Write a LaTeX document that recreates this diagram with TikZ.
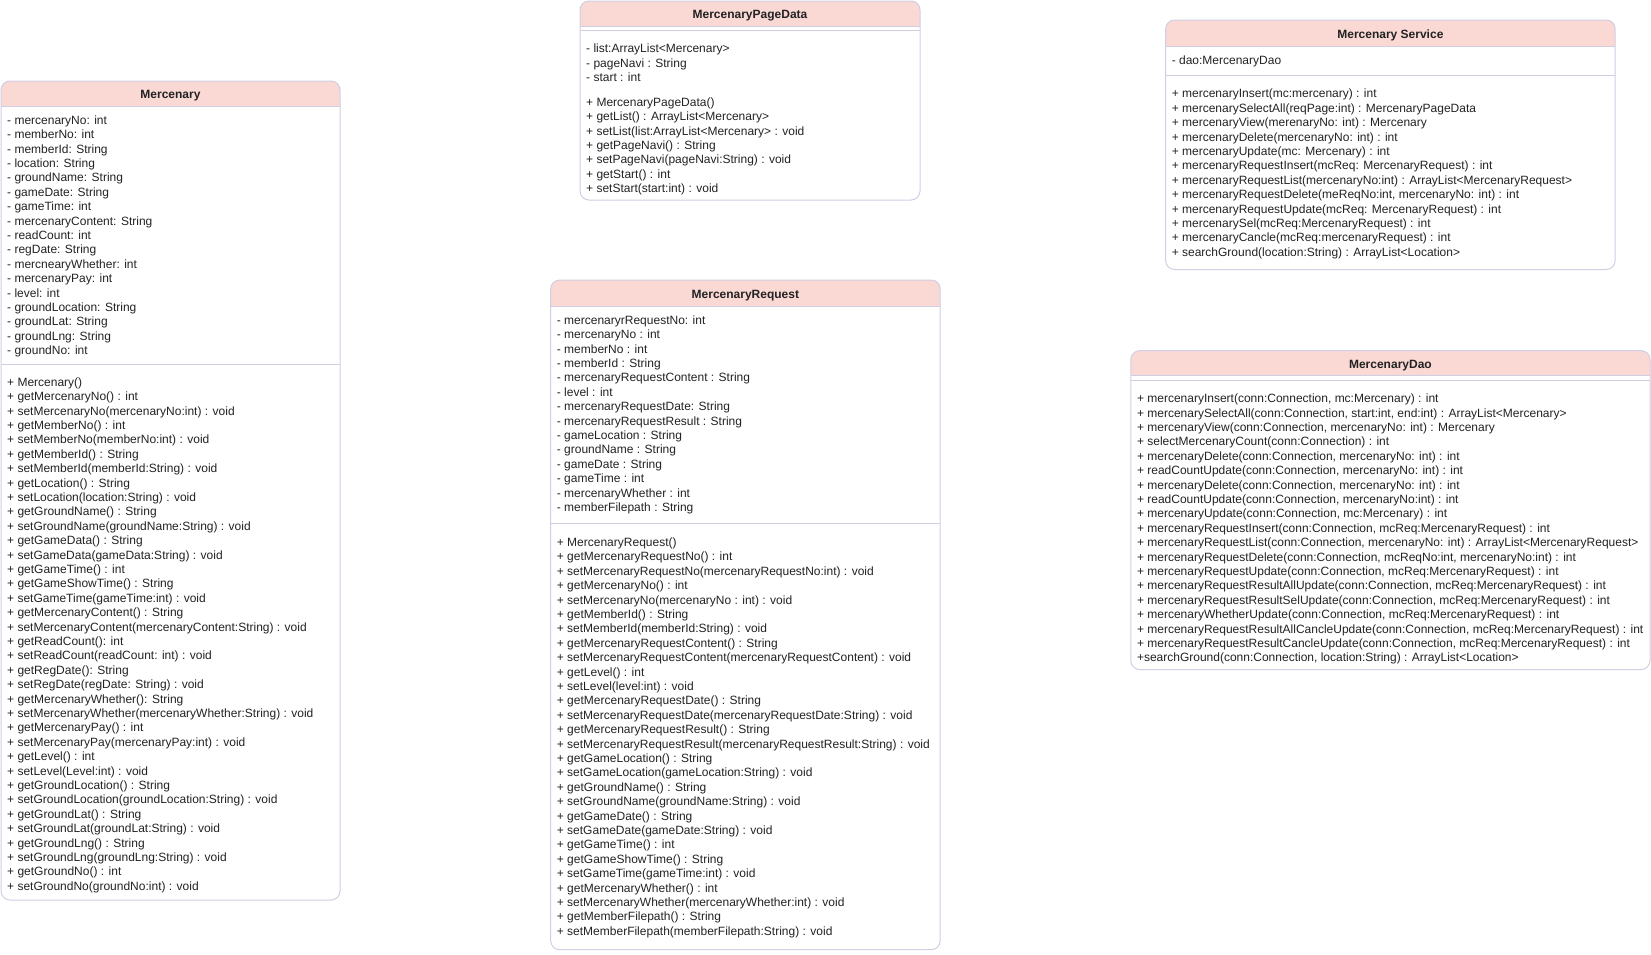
\documentclass[tikz,border=0pt]{standalone}
\usepackage{fontspec}
\setmainfont{Liberation Sans}
\definecolor{hdr}{HTML}{FAD9D5}
\definecolor{bord}{HTML}{D0CEE2}
\definecolor{txt}{HTML}{222222}
\tikzset{
  classbox/.style={draw=bord, line width=1pt, rounded corners=9pt, inner sep=0pt, outer sep=0pt, anchor=north west},
  hdrfill/.style={fill=hdr, rounded corners=9pt},
  sepline/.style={draw=bord, line width=1pt},
  classtitle/.style={font=\bfseries\fontsize{12}{14.4}\selectfont, text=txt, anchor=base, inner sep=0pt},
  members/.style={font=\fontsize{12}{14.4}\selectfont, text=txt, align=left, anchor=north west, inner sep=0pt},
}
\newcommand{\fstrut}{\rule{0pt}{10pt}}
\begin{document}
\begin{tikzpicture}[x=1pt,y=-1pt]
\useasboundingbox (0,0) rectangle (1651,954);

% ---------------- Mercenary ----------------
\fill[hdrfill] (1,106.3) |- (340,81) -- (340,106.3);
\node[classbox, minimum width=339pt, minimum height=819pt] (merc) at (1,81) {};
\draw[sepline] (1,106.3) -- (340,106.3);
\draw[sepline] (1,364.3) -- (340,364.3);
\node[classtitle] (merc-title) at (170.5,98.5) {Mercenary};
\node[members] (merc-attr) at (7,114) {\fstrut- mercenaryNo: int\\
- memberNo: int\\
- memberId: String\\
- location: String\\
- groundName: String\\
- gameDate: String\\
- gameTime: int\\
- mercenaryContent: String\\
- readCount: int\\
- regDate: String\\
- mercnearyWhether: int\\
- mercenaryPay: int\\
- level: int\\
- groundLocation: String\\
- groundLat: String\\
- groundLng: String\\
- groundNo: int};
\node[members] (merc-meth) at (7,376) {\fstrut+ Mercenary()\\
+ getMercenaryNo() : int\\
+ setMercenaryNo(mercenaryNo:int) : void\\
+ getMemberNo() : int\\
+ setMemberNo(memberNo:int) : void\\
+ getMemberId() : String\\
+ setMemberId(memberId:String) : void\\
+ getLocation() : String\\
+ setLocation(location:String) : void\\
+ getGroundName() : String\\
+ setGroundName(groundName:String) : void\\
+ getGameData() : String\\
+ setGameData(gameData:String) : void\\
+ getGameTime() : int\\
+ getGameShowTime() : String\\
+ setGameTime(gameTime:int) : void\\
+ getMercenaryContent() : String\\
+ setMercenaryContent(mercenaryContent:String) : void\\
+ getReadCount(): int\\
+ setReadCount(readCount: int) : void\\
+ getRegDate(): String\\
+ setRegDate(regDate: String) : void\\
+ getMercenaryWhether(): String\\
+ setMercenaryWhether(mercenaryWhether:String) : void\\
+ getMercenaryPay() : int\\
+ setMercenaryPay(mercenaryPay:int) : void\\
+ getLevel() : int\\
+ setLevel(Level:int) : void\\
+ getGroundLocation() : String\\
+ setGroundLocation(groundLocation:String) : void\\
+ getGroundLat() : String\\
+ setGroundLat(groundLat:String) : void\\
+ getGroundLng() : String\\
+ setGroundLng(groundLng:String) : void\\
+ getGroundNo() : int\\
+ setGroundNo(groundNo:int) : void};

% ---------------- MercenaryPageData ----------------
\fill[hdrfill] (580,26.3) |- (920,1) -- (920,26.3);
\node[classbox, minimum width=340pt, minimum height=199pt] (page) at (580,1) {};
\draw[sepline] (580,26.3) -- (920,26.3);
\draw[sepline] (580,30.5) -- (920,30.5);
\node[classtitle] (page-title) at (750,18.4) {MercenaryPageData};
\node[members] (page-attr) at (586,42.4) {\fstrut- list:ArrayList<Mercenary>\\
- pageNavi : String\\
- start : int};
\node[members] (page-meth) at (586,96.1) {\fstrut+ MercenaryPageData()\\
+ getList() : ArrayList<Mercenary>\\
+ setList(list:ArrayList<Mercenary> : void\\
+ getPageNavi() : String\\
+ setPageNavi(pageNavi:String) : void\\
+ getStart() : int\\
+ setStart(start:int) : void};

% ---------------- MercenaryService ----------------
\fill[hdrfill] (1165.6,46.3) |- (1615.2,20) -- (1615.2,46.3);
\node[classbox, minimum width=449.6pt, minimum height=249.5pt] (svc) at (1165.6,20) {};
\draw[sepline] (1165.6,46.3) -- (1615.2,46.3);
\draw[sepline] (1165.6,75.8) -- (1615.2,75.8);
\node[classtitle] (svc-title) at (1390.4,38) {Mercenary Service};
\node[members] (svc-attr) at (1171.6,54.5) {\fstrut- dao:MercenaryDao};
\node[members] (svc-meth) at (1171.6,87.7) {\fstrut+ mercenaryInsert(mc:mercenary) : int\\
+ mercenarySelectAll(reqPage:int) : MercenaryPageData\\
+ mercenaryView(merenaryNo: int) : Mercenary\\
+ mercenaryDelete(mercenaryNo: int) : int\\
+ mercenaryUpdate(mc: Mercenary) : int\\
+ mercenaryRequestInsert(mcReq: MercenaryRequest) : int\\
+ mercenaryRequestList(mercenaryNo:int) : ArrayList<MercenaryRequest>\\
+ mercenaryRequestDelete(meReqNo:int, mercenaryNo: int) : int\\
+ mercenaryRequestUpdate(mcReq: MercenaryRequest) : int\\
+ mercenarySel(mcReq:MercenaryRequest) : int\\
+ mercenaryCancle(mcReq:mercenaryRequest) : int\\
+ searchGround(location:String) : ArrayList<Location>};

% ---------------- MercenaryRequest ----------------
\fill[hdrfill] (550.7,306.4) |- (940.2,280) -- (940.2,306.4);
\node[classbox, minimum width=389.5pt, minimum height=669.7pt] (req) at (550.7,280) {};
\draw[sepline] (550.7,306.4) -- (940.2,306.4);
\draw[sepline] (550.7,523.3) -- (940.2,523.3);
\node[classtitle] (req-title) at (745.4,298) {MercenaryRequest};
\node[members] (req-attr) at (556.7,314) {\fstrut- mercenaryrRequestNo: int\\
- mercenaryNo : int\\
- memberNo : int\\
- memberId : String\\
- mercenaryRequestContent : String\\
- level : int\\
- mercenaryRequestDate: String\\
- mercenaryRequestResult : String\\
- gameLocation : String\\
- groundName : String\\
- gameDate : String\\
- gameTime : int\\
- mercenaryWhether : int\\
- memberFilepath : String};
\node[members] (req-meth) at (556.7,536.2) {\fstrut+ MercenaryRequest()\\
+ getMercenaryRequestNo() : int\\
+ setMercenaryRequestNo(mercenaryRequestNo:int) : void\\
+ getMercenaryNo() : int\\
+ setMercenaryNo(mercenaryNo : int) : void\\
+ getMemberId() : String\\
+ setMemberId(memberId:String) : void\\
+ getMercenaryRequestContent() : String\\
+ setMercenaryRequestContent(mercenaryRequestContent) : void\\
+ getLevel() : int\\
+ setLevel(level:int) : void\\
+ getMercenaryRequestDate() : String\\
+ setMercenaryRequestDate(mercenaryRequestDate:String) : void\\
+ getMercenaryRequestResult() : String\\
+ setMercenaryRequestResult(mercenaryRequestResult:String) : void\\
+ getGameLocation() : String\\
+ setGameLocation(gameLocation:String) : void\\
+ getGroundName() : String\\
+ setGroundName(groundName:String) : void\\
+ getGameDate() : String\\
+ setGameDate(gameDate:String) : void\\
+ getGameTime() : int\\
+ getGameShowTime() : String\\
+ setGameTime(gameTime:int) : void\\
+ getMercenaryWhether() : int\\
+ setMercenaryWhether(mercenaryWhether:int) : void\\
+ getMemberFilepath() : String\\
+ setMemberFilepath(memberFilepath:String) : void};

% ---------------- MercenaryDao ----------------
\fill[hdrfill] (1130.8,375.9) |- (1650,350.6) -- (1650,375.9);
\node[classbox, minimum width=519.2pt, minimum height=319pt] (dao) at (1130.8,350.6) {};
\draw[sepline] (1130.8,375.9) -- (1650,375.9);
\draw[sepline] (1130.8,380.1) -- (1650,380.1);
\node[classtitle] (dao-title) at (1390.4,368) {MercenaryDao};
\node[members] (dao-meth) at (1136.8,392.5) {\fstrut+ mercenaryInsert(conn:Connection, mc:Mercenary) : int\\
+ mercenarySelectAll(conn:Connection, start:int, end:int) : ArrayList<Mercenary>\\
+ mercenaryView(conn:Connection, mercenaryNo: int) : Mercenary\\
+ selectMercenaryCount(conn:Connection) : int\\
+ mercenaryDelete(conn:Connection, mercenaryNo: int) : int\\
+ readCountUpdate(conn:Connection, mercenaryNo: int) : int\\
+ mercenaryDelete(conn:Connection, mercenaryNo: int) : int\\
+ readCountUpdate(conn:Connection, mercenaryNo:int) : int\\
+ mercenaryUpdate(conn:Connection, mc:Mercenary) : int\\
+ mercenaryRequestInsert(conn:Connection, mcReq:MercenaryRequest) : int\\
+ mercenaryRequestList(conn:Connection, mercenaryNo: int) : ArrayList<MercenaryRequest>\\
+ mercenaryRequestDelete(conn:Connection, mcReqNo:int, mercenaryNo:int) : int\\
+ mercenaryRequestUpdate(conn:Connection, mcReq:MercenaryRequest) : int\\
+ mercenaryRequestResultAllUpdate(conn:Connection, mcReq:MercenaryRequest) : int\\
+ mercenaryRequestResultSelUpdate(conn:Connection, mcReq:MercenaryRequest) : int\\
+ mercenaryWhetherUpdate(conn:Connection, mcReq:MercenaryRequest) : int\\
+ mercenaryRequestResultAllCancleUpdate(conn:Connection, mcReq:MercenaryRequest) : int\\
+ mercenaryRequestResultCancleUpdate(conn:Connection, mcReq:MercenaryRequest) : int\\
+searchGround(conn:Connection, location:String) : ArrayList<Location>};
\end{tikzpicture}
\end{document}
